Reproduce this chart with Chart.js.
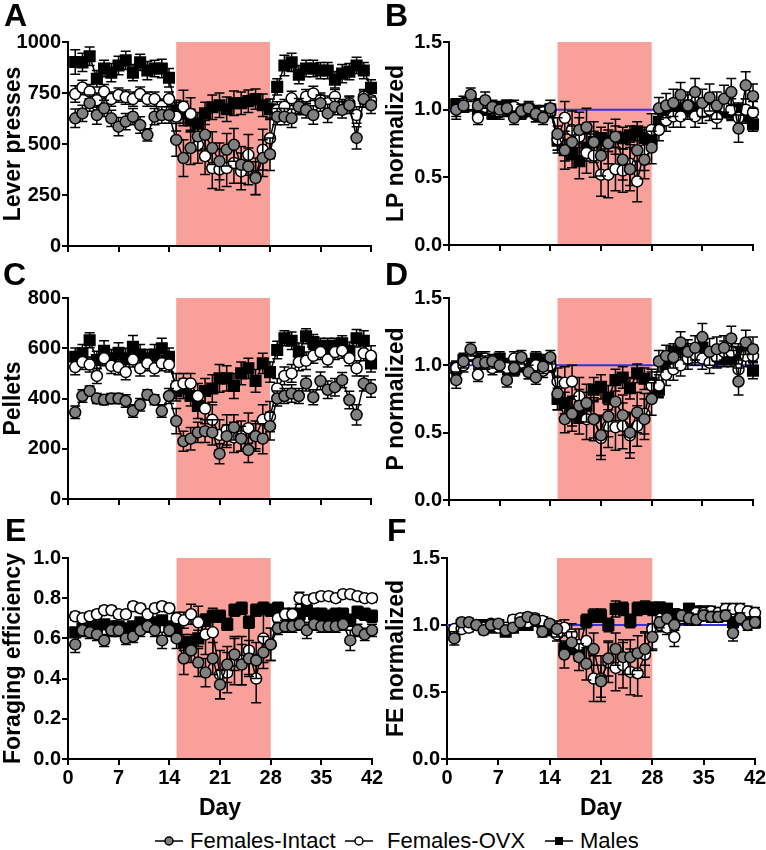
<!DOCTYPE html>
<html>
<head>
<meta charset="utf-8">
<script src="https://cdn.jsdelivr.net/npm/chart.js@4.4.1/dist/chart.umd.min.js"></script>
<style>
  body { margin: 0; background: #fff; font-family: "Liberation Sans", Arial, sans-serif; }
  #wrap { position: relative; width: 766px; height: 850px; overflow: hidden; }
  canvas { position: absolute; }
  .tag { position: absolute; font-weight: bold; font-size: 32px; line-height: 1; }
  .lg { position: absolute; top: 829px; font-size: 22px; line-height: 24px; white-space: nowrap; }
  .lgm { position: absolute; top: 835px; }
</style>
</head>
<body>
<div id="wrap">
  <canvas id="cA" width="383" height="260" style="left:0;top:0"></canvas>
  <canvas id="cB" width="383" height="260" style="left:383px;top:0"></canvas>
  <canvas id="cC" width="383" height="250" style="left:0;top:260px"></canvas>
  <canvas id="cD" width="383" height="250" style="left:383px;top:260px"></canvas>
  <canvas id="cE" width="383" height="312" style="left:0;top:510px"></canvas>
  <canvas id="cF" width="383" height="312" style="left:383px;top:510px"></canvas>

  <div class="tag" style="left:4px;top:-1px">A</div>
  <div class="tag" style="left:385px;top:-1px">B</div>
  <div class="tag" style="left:3px;top:258px">C</div>
  <div class="tag" style="left:385px;top:258px">D</div>
  <div class="tag" style="left:5px;top:514px">E</div>
  <div class="tag" style="left:387px;top:514px">F</div>

  <svg class="lgm" style="left:155px" width="28" height="12"><line x1="0" y1="6" x2="28" y2="6" stroke="#000" stroke-width="1.5"/><circle cx="14" cy="6" r="4" fill="#808080" stroke="#000" stroke-width="1.5"/></svg>
  <span class="lg" style="left:190px">Females-Intact</span>
  <svg class="lgm" style="left:345px" width="28" height="12"><line x1="0" y1="6" x2="28" y2="6" stroke="#000" stroke-width="1.5"/><circle cx="14" cy="6" r="4" fill="#fff" stroke="#000" stroke-width="1.5"/></svg>
  <span class="lg" style="left:387px">Females-OVX</span>
  <svg class="lgm" style="left:545px" width="28" height="12"><line x1="0" y1="6" x2="28" y2="6" stroke="#000" stroke-width="1.5"/><rect x="10" y="2" width="8" height="8" fill="#000"/></svg>
  <span class="lg" style="left:580px">Males</span>
</div>

<script>
/** data */

let days = [1,2,3,4,5,6,7,8,9,10,11,12,13,14,15,16,17,18,19,20,21,22,23,24,25,26,27,28,29,30,31,32,33,34,35,36,37,38,39,40,41,42];
let dayTicks = [0, 7, 14, 21, 28, 35, 42];
let shadeFrom = 15;
let shadeTo = 28;

// A - lever presses
let aIntact = [626,650,700,642,675,626,585,610,634,593,545,634,642,642, 520,431,480,537,545,480,415,472,496,398,390,333,431,450, 634,634,626,683,667,642,700,650,683,667,690,530,720,690];
let aOvx = [745,777,757,715,757,720,740,730,720,745,720,720,686,720, 634,683,647,496,440,382,375,382,407,366,447,341,472,528, 667,683,724,683,732,748,715,700,732,683,700,642,732,715];
let aMales = [902,900,930,820,870,850,885,910,850,900,860,870,870,825, 665,650,615,600,650,680,690,670,700,700,710,720,690,670, 780,885,900,840,870,870,860,860,815,845,855,885,860,775];
let aIntactErr = [45,40,40,45,40,40,45,40,40,40,30,40,40,40, 80,90,80,70,70,80,90,80,80,90,90,80,90,80, 40,40,45,40,40,45,40,45,40,40,40,55,40,40];
let aOvxErr = [40,35,35,35,35,35,35,35,35,35,35,35,35,35, 70,80,80,90,90,100,100,90,100,90,100,90,100,100, 40,35,35,35,35,35,35,35,35,35,35,40,35,35];
let aMalesErr = [60,45,45,40,40,45,45,45,40,40,45,40,45,45, 50,60,55,55,55,60,60,60,60,55,55,50,55,50, 40,50,45,45,40,40,40,40,40,45,40,40,40,40];
let aTicks = [0, 250, 500, 750, 1000];

// B - LP normalized
let bIntact = [1.00,1.03,1.11,1.03,1.07,1.02,1.00,1.01,0.94,0.99,1.01,0.97,0.94,1.01, 0.82,0.70,0.76,0.85,0.87,0.76,0.66,0.75,0.80,0.63,0.56,0.70,0.63,0.72, 1.01,1.03,1.05,1.11,1.03,1.13,1.05,1.09,1.03,1.08,1.13,0.86,1.18,1.10];
let bOvx = [1.00,1.05,1.04,0.94,1.02,1.00,0.98,1.00,1.02,0.98,1.00,0.96,0.98,0.99, 0.78,0.94,0.85,0.80,0.68,0.66,0.52,0.52,0.56,0.55,0.60,0.47,0.70,0.85, 0.85,0.92,0.95,0.95,1.03,0.95,0.98,1.00,0.94,1.02,1.00,0.94,1.00,0.98];
let bMales = [1.04,1.02,1.05,1.00,1.00,0.97,1.02,1.03,1.00,0.98,1.00,0.98,0.97,1.00, 0.77,0.70,0.67,0.62,0.72,0.76,0.79,0.77,0.80,0.79,0.81,0.84,0.79,0.78, 0.91,0.98,1.00,1.00,1.02,1.00,1.00,1.00,0.97,1.00,0.98,1.00,0.95,0.89];
let bIntactErr = [0.07,0.05,0.05,0.05,0.06,0.05,0.05,0.05,0.05,0.05,0.05,0.06,0.05,0.06, 0.12,0.14,0.12,0.13,0.14,0.15,0.15,0.15,0.13,0.15,0.16,0.15,0.14,0.12, 0.08,0.09,0.10,0.09,0.10,0.10,0.10,0.10,0.10,0.10,0.10,0.10,0.10,0.09];
let bOvxErr = [0.05,0.05,0.05,0.05,0.05,0.05,0.05,0.05,0.05,0.05,0.05,0.05,0.05,0.05, 0.10,0.12,0.14,0.14,0.15,0.16,0.16,0.17,0.16,0.16,0.16,0.15,0.15,0.12, 0.08,0.08,0.08,0.08,0.08,0.08,0.08,0.08,0.08,0.08,0.08,0.08,0.08,0.08];
let bMalesErr = [0.04,0.04,0.04,0.04,0.04,0.04,0.04,0.04,0.04,0.04,0.04,0.04,0.04,0.04, 0.07,0.08,0.10,0.13,0.10,0.08,0.08,0.08,0.08,0.08,0.07,0.07,0.08,0.08, 0.06,0.05,0.05,0.05,0.05,0.05,0.05,0.05,0.05,0.05,0.05,0.05,0.05,0.05];

// C - pellets
let cIntact = [345,410,430,400,395,400,400,390,350,375,415,395,350,410, 310,230,240,265,270,265,180,250,285,240,195,250,240,290, 400,410,420,410,460,405,470,435,445,473,394,335,460,440];
let cOvx = [525,545,535,490,560,530,525,505,555,520,540,520,540,535, 450,460,460,410,360,315,255,275,245,250,282,250,315,328, 440,490,500,545,550,570,585,555,585,590,560,520,580,570];
let cMales = [566,580,632,553,590,560,582,560,606,575,560,575,600,566, 430,440,410,370,430,440,480,480,450,500,520,470,540,505, 593,640,630,586,648,625,610,610,610,620,590,640,630,540];
let cIntactErr = [25,25,20,20,20,20,20,25,25,25,20,20,25,30, 50,40,45,40,45,50,40,45,50,50,50,50,60,55, 30,30,35,30,30,30,35,35,35,30,35,40,30,35];
let cOvxErr = [30,30,30,30,30,30,30,30,30,30,30,30,30,30, 50,40,40,50,60,60,60,60,60,60,60,60,60,60, 40,35,35,35,35,30,30,30,30,30,30,30,30,40];
let cMalesErr = [35,35,30,35,40,35,40,40,45,40,35,40,40,35, 40,40,40,50,50,55,55,50,50,45,40,45,40,40, 35,30,35,35,30,30,30,30,30,30,35,35,40,35];
let cTicks = [0, 200, 400, 600, 800];

// D - P normalized
let dIntact = [0.89,1.03,1.12,1.02,1.02,1.03,1.00,0.89,0.98,1.06,0.95,0.91,0.99,1.06, 0.79,0.60,0.64,0.70,0.72,0.60,0.48,0.62,0.73,0.63,0.50,0.65,0.60,0.75, 1.03,1.07,1.06,1.17,1.10,1.13,1.21,1.10,1.12,1.13,1.20,0.88,1.17,1.12];
let dOvx = [0.98,1.00,1.08,0.93,1.05,0.98,1.01,0.98,1.05,1.02,0.95,1.00,0.96,1.00, 0.88,0.87,0.88,0.77,0.60,0.60,0.46,0.55,0.54,0.55,0.48,0.55,0.64,0.85, 0.85,0.93,0.97,1.00,1.05,1.08,1.05,1.02,1.06,1.10,1.10,0.97,1.07,1.07];
let dMales = [0.98,1.04,1.08,1.05,1.03,1.00,1.05,1.00,0.97,1.00,1.00,1.05,1.03,1.00, 0.75,0.72,0.65,0.61,0.70,0.82,0.84,0.76,0.89,0.91,0.83,0.94,0.90,0.87, 0.82,1.00,1.10,1.12,1.10,1.08,1.13,1.07,1.05,1.05,1.05,1.10,1.10,0.96];
let dIntactErr = [0.06,0.05,0.05,0.05,0.05,0.05,0.05,0.05,0.05,0.05,0.05,0.05,0.05,0.05, 0.12,0.10,0.13,0.12,0.14,0.14,0.15,0.15,0.14,0.15,0.15,0.15,0.15,0.12, 0.08,0.08,0.08,0.08,0.09,0.09,0.10,0.10,0.09,0.09,0.09,0.10,0.09,0.09];
let dOvxErr = [0.05,0.05,0.05,0.05,0.05,0.05,0.05,0.05,0.05,0.05,0.05,0.05,0.05,0.05, 0.10,0.12,0.12,0.14,0.15,0.16,0.16,0.16,0.17,0.17,0.17,0.15,0.15,0.12, 0.08,0.08,0.08,0.08,0.08,0.08,0.08,0.08,0.08,0.08,0.08,0.08,0.08,0.08];
let dMalesErr = [0.05,0.05,0.05,0.05,0.05,0.05,0.05,0.05,0.05,0.05,0.05,0.05,0.05,0.05, 0.08,0.08,0.10,0.12,0.10,0.09,0.09,0.09,0.08,0.08,0.08,0.07,0.08,0.08, 0.06,0.06,0.06,0.06,0.06,0.06,0.06,0.06,0.06,0.06,0.06,0.06,0.06,0.06];

// E - foraging efficiency
let eIntact = [0.57,0.64,0.63,0.62,0.59,0.64,0.64,0.60,0.61,0.64,0.66,0.64,0.59,0.64, 0.60,0.50,0.54,0.48,0.43,0.50,0.37,0.47,0.52,0.47,0.50,0.49,0.53,0.57, 0.65,0.66,0.66,0.67,0.64,0.67,0.66,0.66,0.66,0.67,0.59,0.64,0.62,0.64];
let eOvx = [0.71,0.70,0.71,0.72,0.74,0.74,0.72,0.72,0.76,0.75,0.72,0.75,0.76,0.75, 0.70,0.69,0.72,0.68,0.62,0.63,0.42,0.43,0.49,0.49,0.54,0.40,0.60,0.57, 0.70,0.72,0.72,0.80,0.79,0.80,0.81,0.81,0.80,0.82,0.82,0.81,0.80,0.80];
let eMales = [0.63,0.65,0.66,0.66,0.67,0.66,0.66,0.65,0.66,0.68,0.67,0.68,0.69,0.66, 0.64,0.58,0.58,0.60,0.69,0.71,0.71,0.67,0.74,0.75,0.68,0.74,0.75,0.74, 0.75,0.70,0.71,0.72,0.74,0.72,0.72,0.71,0.72,0.72,0.69,0.73,0.72,0.71];
let eIntactErr = [0.04,0.03,0.03,0.03,0.03,0.03,0.03,0.03,0.03,0.03,0.03,0.03,0.04,0.03, 0.05,0.08,0.06,0.07,0.07,0.08,0.07,0.09,0.08,0.10,0.09,0.09,0.08,0.08, 0.03,0.03,0.03,0.03,0.04,0.03,0.03,0.03,0.03,0.03,0.05,0.03,0.03,0.03];
let eOvxErr = [0.02,0.02,0.02,0.02,0.02,0.02,0.02,0.02,0.02,0.02,0.02,0.02,0.02,0.02, 0.03,0.04,0.05,0.08,0.10,0.12,0.12,0.10,0.12,0.12,0.12,0.12,0.12,0.08, 0.03,0.03,0.03,0.03,0.02,0.02,0.02,0.02,0.02,0.02,0.02,0.02,0.02,0.02];
let eMalesErr = [0.02,0.02,0.02,0.02,0.02,0.02,0.02,0.02,0.02,0.02,0.02,0.02,0.02,0.02, 0.03,0.04,0.04,0.04,0.03,0.03,0.03,0.03,0.03,0.03,0.03,0.03,0.03,0.03, 0.03,0.03,0.03,0.03,0.03,0.03,0.03,0.03,0.03,0.03,0.03,0.03,0.03,0.03];
let eTicks = [0, 0.2, 0.4, 0.6, 0.8, 1.0];

// F - FE normalized
let fIntact = [0.90,1.02,1.02,1.00,0.96,1.00,1.01,0.96,0.98,1.02,1.06,1.04,0.95,1.01, 0.97,0.78,0.87,0.76,0.71,0.82,0.58,0.75,0.82,0.76,0.76,0.79,0.82,0.91, 1.02,1.05,1.00,1.07,1.05,1.04,1.07,1.06,1.06,1.07,0.94,1.05,1.00,1.02];
let fOvx = [0.97,0.97,0.98,1.00,0.98,1.01,0.98,0.98,1.04,1.05,1.02,1.05,1.03,1.00, 0.93,0.98,0.93,0.85,0.88,0.60,0.60,0.72,0.68,0.70,0.65,0.64,0.78,0.97, 1.00,0.98,0.91,1.05,1.04,1.09,1.09,1.10,1.09,1.12,1.12,1.12,1.10,1.09];
let fMales = [0.93,1.00,1.00,1.00,1.00,0.98,1.00,0.95,0.98,1.00,1.00,1.03,1.02,0.96, 0.95,0.82,0.83,0.82,1.03,1.07,1.07,1.00,1.12,1.12,1.03,1.12,1.13,1.12, 1.13,1.12,1.08,1.07,1.12,1.10,1.10,1.09,1.08,1.09,1.02,1.05,1.03,1.02];
let fIntactErr = [0.05,0.03,0.03,0.03,0.03,0.03,0.03,0.03,0.03,0.03,0.03,0.03,0.04,0.03, 0.06,0.10,0.08,0.10,0.12,0.12,0.12,0.13,0.12,0.13,0.13,0.13,0.12,0.10, 0.04,0.04,0.04,0.04,0.04,0.04,0.04,0.04,0.04,0.04,0.06,0.04,0.04,0.04];
let fOvxErr = [0.03,0.03,0.03,0.03,0.03,0.03,0.03,0.03,0.03,0.03,0.03,0.03,0.03,0.03, 0.05,0.06,0.08,0.12,0.14,0.17,0.17,0.15,0.17,0.17,0.17,0.17,0.17,0.15, 0.05,0.05,0.07,0.04,0.04,0.04,0.04,0.04,0.04,0.04,0.04,0.04,0.04,0.04];
let fMalesErr = [0.03,0.03,0.03,0.03,0.03,0.03,0.03,0.03,0.03,0.03,0.03,0.03,0.03,0.03, 0.04,0.05,0.05,0.05,0.05,0.05,0.05,0.05,0.06,0.05,0.05,0.05,0.05,0.05, 0.04,0.04,0.04,0.04,0.04,0.04,0.04,0.04,0.04,0.04,0.04,0.04,0.04,0.04];
let normTicks = [0, 0.5, 1.0, 1.5];

/** plugins */

const shadePlugin = {
  id: "shade",
  beforeDatasetsDraw(chart) {
    const { ctx, chartArea, scales } = chart;
    const x0 = scales.x.getPixelForValue(shadeFrom);
    const x1 = scales.x.getPixelForValue(shadeTo);
    ctx.save();
    ctx.fillStyle = "#f9a09a";
    ctx.fillRect(x0, chartArea.top, x1 - x0, chartArea.bottom - chartArea.top - 1);
    ctx.restore();
  },
};

const errorBarPlugin = {
  id: "errorBars",
  beforeDatasetDraw(chart, args) {
    const ds = chart.data.datasets[args.index];
    if (!ds.errors) return;
    const ctx = chart.ctx;
    const y = chart.scales.y;
    ctx.save();
    ctx.strokeStyle = "#000";
    ctx.lineWidth = 1.5;
    args.meta.data.forEach((pt, i) => {
      const v = ds.data[i].y;
      const e = ds.errors[i];
      const top = y.getPixelForValue(v + e);
      const bot = y.getPixelForValue(v - e);
      ctx.beginPath();
      ctx.moveTo(pt.x, top);
      ctx.lineTo(pt.x, bot);
      ctx.moveTo(pt.x - 5, top);
      ctx.lineTo(pt.x + 5, top);
      ctx.moveTo(pt.x - 5, bot);
      ctx.lineTo(pt.x + 5, bot);
      ctx.stroke();
    });
    ctx.restore();
  },
};

/** panels */

const tickFont = { family: "Liberation Sans", size: 20, weight: "bold" };
const titleFont = { family: "Liberation Sans", size: 23, weight: "bold" };

function pts(vals) {
  return days.map((d, i) => ({ x: d, y: vals[i] }));
}

function series(label, vals, errs, fill, style, radius) {
  return {
    label: label,
    data: pts(vals),
    errors: errs,
    borderColor: "#000",
    borderWidth: 1.5,
    pointStyle: style,
    pointRadius: radius,
    pointBackgroundColor: fill,
    pointBorderColor: "#000",
    pointBorderWidth: 1.5,
    tension: 0,
    clip: false,
  };
}

function panel(id, cfg) {
  const el = document.getElementById(id);
  const W = el.width, H = el.height;
  const a = cfg.area; // left, top, right, bottom of plot inside canvas

  const datasets = [
    series("Females-Intact", cfg.intact, cfg.intactErr, "#808080", "circle", 5.5),
    series("Females-OVX", cfg.ovx, cfg.ovxErr, "#ffffff", "circle", 5.5),
    series("Males", cfg.males, cfg.malesErr, "#000000", "rect", 7.5),
  ];
  if (cfg.refLine) {
    datasets.push({
      data: [{ x: 0, y: 1 }, { x: 42.8, y: 1 }],
      borderColor: "#3a2ee0",
      borderWidth: 2,
      pointRadius: 0,
      clip: false,
    });
  }

  new Chart(el, {
    type: "line",
    data: { datasets: datasets },
    options: {
      responsive: false,
      animation: false,
      events: [],
      layout: { padding: { left: 0, top: a[1], right: W - a[2], bottom: 0 } },
      plugins: { legend: { display: false }, tooltip: { enabled: false } },
      scales: {
        x: {
          type: "linear",
          min: 0,
          max: 42,
          afterBuildTicks: (s) => { s.ticks = dayTicks.map((v) => ({ value: v })); },
          afterFit: (s) => { s.height = H - a[3]; s.paddingLeft = 0; s.paddingRight = 0; },
          ticks: { display: cfg.showX, font: tickFont, color: "#000", padding: 1, maxRotation: 0, autoSkip: false },
          grid: { drawOnChartArea: false, color: "#000", lineWidth: 2, tickLength: 6 },
          border: { color: "#000", width: 2 },
          title: { display: cfg.showX, text: "Day", font: titleFont, color: "#000", padding: 0 },
        },
        y: {
          min: cfg.yTicks[0],
          max: cfg.yTicks[cfg.yTicks.length - 1],
          afterBuildTicks: (s) => { s.ticks = cfg.yTicks.map((v) => ({ value: v })); },
          afterFit: (s) => { s.width = a[0]; s.paddingTop = 0; s.paddingBottom = 0; },
          ticks: {
            font: tickFont,
            color: "#000",
            padding: 1,
            callback: (v) => (cfg.decimals ? Number(v).toFixed(1) : v),
          },
          grid: { drawOnChartArea: false, color: "#000", lineWidth: 2, tickLength: 6 },
          border: { color: "#000", width: 2 },
          title: { display: true, text: cfg.yTitle, font: titleFont, color: "#000", padding: 0 },
        },
      },
    },
    plugins: [shadePlugin, errorBarPlugin],
  });
}

panel("cA", {
  area: [68, 42, 371, 246], yTitle: "Lever presses", yTicks: aTicks, decimals: false, showX: false,
  intact: aIntact, ovx: aOvx, males: aMales, intactErr: aIntactErr, ovxErr: aOvxErr, malesErr: aMalesErr,
});
panel("cB", {
  area: [66, 42, 370, 245], yTitle: "LP normalized", yTicks: normTicks, decimals: true, showX: false, refLine: true,
  intact: bIntact, ovx: bOvx, males: bMales, intactErr: bIntactErr, ovxErr: bOvxErr, malesErr: bMalesErr,
});
panel("cC", {
  area: [68, 38, 371, 239], yTitle: "Pellets", yTicks: cTicks, decimals: false, showX: false,
  intact: cIntact, ovx: cOvx, males: cMales, intactErr: cIntactErr, ovxErr: cOvxErr, malesErr: cMalesErr,
});
panel("cD", {
  area: [66, 38, 370, 240], yTitle: "P normalized", yTicks: normTicks, decimals: true, showX: false, refLine: true,
  intact: dIntact, ovx: dOvx, males: dMales, intactErr: dIntactErr, ovxErr: dOvxErr, malesErr: dMalesErr,
});
panel("cE", {
  area: [68, 48, 372, 249], yTitle: "Foraging efficiency", yTicks: eTicks, decimals: true, showX: true,
  intact: eIntact, ovx: eOvx, males: eMales, intactErr: eIntactErr, ovxErr: eOvxErr, malesErr: eMalesErr,
});
panel("cF", {
  area: [64, 48, 372, 249], yTitle: "FE normalized", yTicks: normTicks, decimals: true, showX: true, refLine: true,
  intact: fIntact, ovx: fOvx, males: fMales, intactErr: fIntactErr, ovxErr: fOvxErr, malesErr: fMalesErr,
});
</script>
</body>
</html>
